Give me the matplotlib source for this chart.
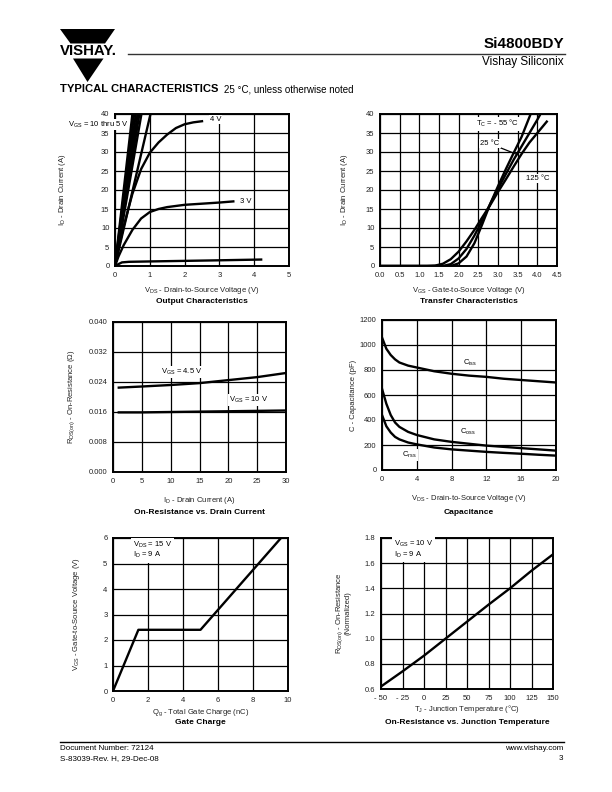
import matplotlib
matplotlib.use('Agg')
import matplotlib.pyplot as plt
from matplotlib.patches import Polygon
from matplotlib.lines import Line2D

plt.rcParams['font.family'] = ['Liberation Sans', 'DejaVu Sans']
plt.rcParams['mathtext.fontset'] = 'custom'
plt.rcParams['mathtext.rm'] = 'Liberation Sans'
plt.rcParams['mathtext.it'] = 'Liberation Sans'
plt.rcParams['mathtext.bf'] = 'Liberation Sans:bold'
plt.rcParams['mathtext.default'] = 'regular'

# ---------------- data ----------------
# Output characteristics
bundle_vds_at_40A = [0.50, 0.55, 0.60, 0.65, 0.70, 0.76, 1.02]
vds_4v = [0, 0.1, 0.25, 0.5, 0.75, 1.0, 1.25, 1.5, 1.75, 2.0, 2.25, 2.5]
id_4v = [0, 4.5, 10.5, 19, 25.5, 29.8, 32.5, 34.6, 36.3, 37.3, 37.8, 38.1]
vds_3v = [0, 0.1, 0.25, 0.5, 0.75, 1.0, 1.25, 1.5, 2.0, 2.5, 3.0, 3.4]
id_3v = [0, 2.5, 5.5, 9.5, 12.5, 14.2, 15.0, 15.5, 16.1, 16.4, 16.7, 17.0]
vds_2v = [0, 0.1, 0.2, 0.4, 1.0, 2.0, 3.0, 4.2]
id_2v = [0, 0.5, 0.95, 1.1, 1.2, 1.35, 1.5, 1.7]

# Transfer characteristics
vgs_m55 = [0, 1.8, 2.0, 2.2, 2.4, 2.6, 2.8, 3.0, 3.2, 3.4, 3.6, 3.83]
id_m55 = [0, 0, 0.7, 2.5, 6.0, 11.0, 16.3, 21.0, 25.5, 29.8, 34.0, 40.0]
vgs_25 = [0, 1.6, 1.8, 2.0, 2.2, 2.4, 2.6, 2.8, 3.0, 3.2, 3.4, 3.6, 3.8, 4.0, 4.08]
id_25 = [0, 0, 0.5, 2.0, 4.5, 8.0, 12.0, 16.3, 20.3, 24.2, 28.0, 31.5, 35.0, 38.5, 40.0]
vgs_125 = [0, 1.2, 1.4, 1.6, 1.8, 2.0, 2.2, 2.4, 2.6, 2.8, 3.0, 3.2, 3.4, 3.6, 3.8, 4.0, 4.24]
id_125 = [0, 0, 0.1, 0.6, 1.8, 3.8, 6.5, 9.5, 12.8, 16.0, 19.5, 22.8, 26.2, 29.5, 32.5, 35.0, 38.0]

# On-resistance vs drain current
id_ron = [1, 5, 10, 15, 20, 25, 30]
ron_45v = [0.0225, 0.0228, 0.0232, 0.0237, 0.0245, 0.0253, 0.0264]
ron_10v = [0.0159, 0.0159, 0.0160, 0.0161, 0.0162, 0.0163, 0.0164]

# Capacitance
vds_cap = [0, 0.5, 1, 1.5, 2, 3, 4, 6, 8, 10, 12, 14, 16, 18, 20]
ciss = [1060, 970, 920, 885, 860, 835, 820, 790, 770, 755, 745, 730, 720, 710, 700]
coss = [650, 530, 440, 380, 345, 305, 280, 245, 225, 210, 195, 185, 175, 165, 155]
crss = [440, 350, 300, 265, 245, 220, 205, 180, 165, 155, 145, 137, 130, 122, 115]

# Gate charge
qg = [0, 1.45, 5.0, 9.6]
vgs_qg = [0, 2.4, 2.4, 6.0]

# On-resistance vs junction temperature
tj = [-50, -25, 0, 25, 50, 75, 100, 125, 150]
ron_norm = [0.62, 0.74, 0.865, 1.0, 1.135, 1.27, 1.40, 1.54, 1.67]

# ---------------- figure ----------------
W, H = 612, 792
fig = plt.figure(figsize=(6.12, 7.92), dpi=100)

def fx(px):
    return px / W

def fy(py):
    return 1 - py / H

def ax_px(l, t, r, b):
    return fig.add_axes([l / W, 1 - b / H, (r - l) / W, (b - t) / H])

TXT = '#222222'
FS = 5.5
LW = 1.7

def style(ax, xlim, ylim, xticks, yticks, xtl=None, ytl=None):
    ax.set_xlim(xlim)
    ax.set_ylim(ylim)
    ax.set_xticks(xticks)
    ax.set_yticks(yticks)
    if xtl is not None:
        ax.set_xticklabels(xtl)
    if ytl is not None:
        ax.set_yticklabels(ytl)
    ax.grid(True, color='black', lw=0.9)
    ax.set_axisbelow(True)
    ax.tick_params(length=0, labelsize=FS, pad=4, colors=TXT)
    for s in ax.spines.values():
        s.set_linewidth(1.4)
        s.set_zorder(5)

box = dict(facecolor='white', edgecolor='none', pad=0.8)

# ---- header ----
fig.patches.append(Polygon([[fx(60), fy(29)], [fx(115), fy(29)], [fx(105), fy(43.5)], [fx(70.5), fy(43.5)]],
                           closed=True, transform=fig.transFigure, facecolor='black', edgecolor='none'))
fig.patches.append(Polygon([[fx(73), fy(58.5)], [fx(103.5), fy(58.5)], [fx(87.5), fy(82)]],
                           closed=True, transform=fig.transFigure, facecolor='black', edgecolor='none'))
fig.text(fx(88), fy(51), 'VISHAY.', ha='center', va='center', fontsize=10.8, fontweight='bold',
         color='black')
fig.add_artist(Line2D([fx(128), fx(565)], [fy(54), fy(54)], color='#333333', lw=1.0,
                      transform=fig.transFigure))
fig.text(fx(564), fy(44), 'Si4800BDY', ha='right', va='center', fontsize=11, fontweight='bold')
fig.text(fx(564), fy(62.5), 'Vishay Siliconix', ha='right', va='center', fontsize=8.5)
fig.text(fx(60), fy(89.5), 'TYPICAL CHARACTERISTICS', ha='left', va='center', fontsize=8.1,
         fontweight='heavy')
fig.text(fx(224), fy(89.5), '25 °C, unless otherwise noted', ha='left', va='center', fontsize=7.0)

# ---- footer ----
fig.add_artist(Line2D([fx(60), fx(564)], [fy(741.5), fy(741.5)], color='black', lw=1.0,
                      transform=fig.transFigure))
fig.text(fx(60), fy(749), 'Document Number: 72124', ha='left', va='center', fontsize=5.8)
fig.text(fx(60), fy(759), 'S-83039-Rev. H, 29-Dec-08', ha='left', va='center', fontsize=5.8)
fig.text(fx(563), fy(749), 'www.vishay.com', ha='right', va='center', fontsize=5.8)
fig.text(fx(563), fy(759), '3', ha='right', va='center', fontsize=5.8)

def under(ax_l, ax_r, y_label, label, y_title, title):
    xc = fx((ax_l + ax_r) / 2)
    fig.text(xc, fy(y_label), label, ha='center', va='center', fontsize=FS, color=TXT)
    fig.text(xc, fy(y_title), title, ha='center', va='center', fontsize=6.0, fontweight='bold')

# ---- 1: Output characteristics ----
ax1 = ax_px(115, 114, 289, 266)
style(ax1, (0, 5), (0, 40), range(0, 6), range(0, 41, 5))
for v in bundle_vds_at_40A:
    ax1.plot([0, v], [0, 40], color='black', lw=LW, solid_capstyle='butt')
ax1.plot(vds_4v, id_4v, color='black', lw=LW)
ax1.plot(vds_3v, id_3v, color='black', lw=LW)
ax1.plot(vds_2v, id_2v, color='black', lw=LW)
ax1.text(2.72, 38.6, '4 V', fontsize=FS, va='center', ha='left', bbox=box, zorder=6)
ax1.text(3.6, 17.1, '3 V', fontsize=FS, va='center', ha='left', bbox=box, zorder=6)
ax1.text(0.4, 37.2, 'V$_{GS}$ = 10 thru 5 V', fontsize=FS, va='center', ha='right',
         bbox=dict(facecolor='white', edgecolor='none', pad=0.3), zorder=6, clip_on=False)
ax1.set_ylabel('I$_{D}$ - Drain Current (A)', fontsize=FS, color=TXT)
ax1.yaxis.set_label_coords(-0.27, 0.5)
under(115, 289, 290.5, 'V$_{DS}$ - Drain-to-Source Voltage (V)', 302, 'Output Characteristics')

# ---- 2: Transfer characteristics ----
ax2 = ax_px(380, 114, 557, 266)
xt2 = [0, 0.5, 1.0, 1.5, 2.0, 2.5, 3.0, 3.5, 4.0, 4.5]
style(ax2, (0, 4.5), (0, 40), xt2, range(0, 41, 5), xtl=['%.1f' % v for v in xt2])
ax2.plot(vgs_m55, id_m55, color='black', lw=LW)
ax2.plot(vgs_25, id_25, color='black', lw=LW)
ax2.plot(vgs_125, id_125, color='black', lw=LW)
ax2.text(2.45, 37.4, 'T$_{C}$ = - 55 °C', fontsize=FS, va='center', ha='left', bbox=box, zorder=6)
ax2.annotate('25 °C', xy=(3.5, 29.3), xytext=(2.55, 32.2), fontsize=FS, va='center', ha='left',
             bbox=box, zorder=6,
             arrowprops=dict(arrowstyle='-', color='black', lw=0.9, shrinkA=0, shrinkB=0))
ax2.text(3.7, 23.0, '125 °C', fontsize=FS, va='center', ha='left', bbox=box, zorder=6)
ax2.set_ylabel('I$_{D}$ - Drain Current (A)', fontsize=FS, color=TXT)
ax2.yaxis.set_label_coords(-0.17, 0.5)
under(380, 557, 290.5, 'V$_{GS}$ - Gate-to-Source Voltage (V)', 302, 'Transfer Characteristics')

# ---- 3: On-resistance vs drain current ----
ax3 = ax_px(113, 322, 286, 472)
yt3 = [0.000, 0.008, 0.016, 0.024, 0.032, 0.040]
style(ax3, (0, 30), (0, 0.040), range(0, 31, 5), yt3, ytl=['%.3f' % v for v in yt3])
ax3.plot(id_ron, ron_45v, color='black', lw=LW)
ax3.plot(id_ron, ron_10v, color='black', lw=LW)
ax3.text(8.3, 0.0266, 'V$_{GS}$ = 4.5 V', fontsize=FS, va='center', ha='left', bbox=box, zorder=6)
ax3.text(20.1, 0.0192, 'V$_{GS}$ = 10 V', fontsize=FS, va='center', ha='left', bbox=box, zorder=6)
ax3.set_ylabel('R$_{DS(on)}$ - On-Resistance (Ω)', fontsize=FS, color=TXT)
ax3.yaxis.set_label_coords(-0.21, 0.5)
under(113, 286, 501, 'I$_{D}$ - Drain Current (A)', 512, 'On-Resistance vs. Drain Current')

# ---- 4: Capacitance ----
ax4 = ax_px(382, 320, 556, 470)
style(ax4, (0, 20), (0, 1200), range(0, 21, 4), range(0, 1201, 200))
ax4.plot(vds_cap, ciss, color='black', lw=LW)
ax4.plot(vds_cap, coss, color='black', lw=LW)
ax4.plot(vds_cap, crss, color='black', lw=LW)
ax4.text(9.3, 855, 'C$_{iss}$', fontsize=FS, va='center', ha='left', bbox=box, zorder=6)
ax4.text(9.0, 305, 'C$_{oss}$', fontsize=FS, va='center', ha='left', bbox=box, zorder=6)
ax4.text(2.3, 120, 'C$_{rss}$', fontsize=FS, va='center', ha='left', bbox=box, zorder=6)
ax4.set_ylabel('C - Capacitance (pF)', fontsize=FS, color=TXT)
ax4.yaxis.set_label_coords(-0.145, 0.5)
under(382, 556, 498, 'V$_{DS}$ - Drain-to-Source Voltage (V)', 512, 'Capacitance')

# ---- 5: Gate charge ----
ax5 = ax_px(113, 538, 288, 691)
style(ax5, (0, 10), (0, 6), range(0, 11, 2), range(0, 7))
ax5.plot(qg, vgs_qg, color='black', lw=LW)
ax5.text(1.15, 5.52, 'V$_{DS}$ = 15 V\nI$_{D}$ = 9 A', fontsize=FS, va='center', ha='left',
         linespacing=1.0, bbox=dict(facecolor='white', edgecolor='none', pad=1.5), zorder=6)
ax5.set_ylabel('V$_{GS}$ - Gate-to-Source Voltage (V)', fontsize=FS, color=TXT)
ax5.yaxis.set_label_coords(-0.18, 0.5)
under(113, 288, 713, 'Q$_{g}$ - Total Gate Charge (nC)', 722.5, 'Gate Charge')

# ---- 6: On-resistance vs junction temperature ----
ax6 = ax_px(381, 538, 553, 689)
xt6 = [-50, -25, 0, 25, 50, 75, 100, 125, 150]
yt6 = [0.6, 0.8, 1.0, 1.2, 1.4, 1.6, 1.8]
style(ax6, (-50, 150), (0.6, 1.8), xt6, yt6,
      xtl=[('- %d' % -v) if v < 0 else str(v) for v in xt6], ytl=['%.1f' % v for v in yt6])
ax6.plot(tj, ron_norm, color='black', lw=LW)
ax6.text(-35, 1.71, 'V$_{GS}$ = 10 V\nI$_{D}$ = 9 A', fontsize=FS, va='center', ha='left',
         linespacing=1.0, bbox=dict(facecolor='white', edgecolor='none', pad=1.5), zorder=6)
ax6.set_ylabel('R$_{DS(on)}$ - On-Resistance\n(Normalized)', fontsize=FS, color=TXT,
               linespacing=1.0)
ax6.yaxis.set_label_coords(-0.17, 0.5)
under(381, 553, 709, 'T$_{J}$ - Junction Temperature (°C)', 722.5,
      'On-Resistance vs. Junction Temperature')

fig.savefig('out.png', dpi=100)
